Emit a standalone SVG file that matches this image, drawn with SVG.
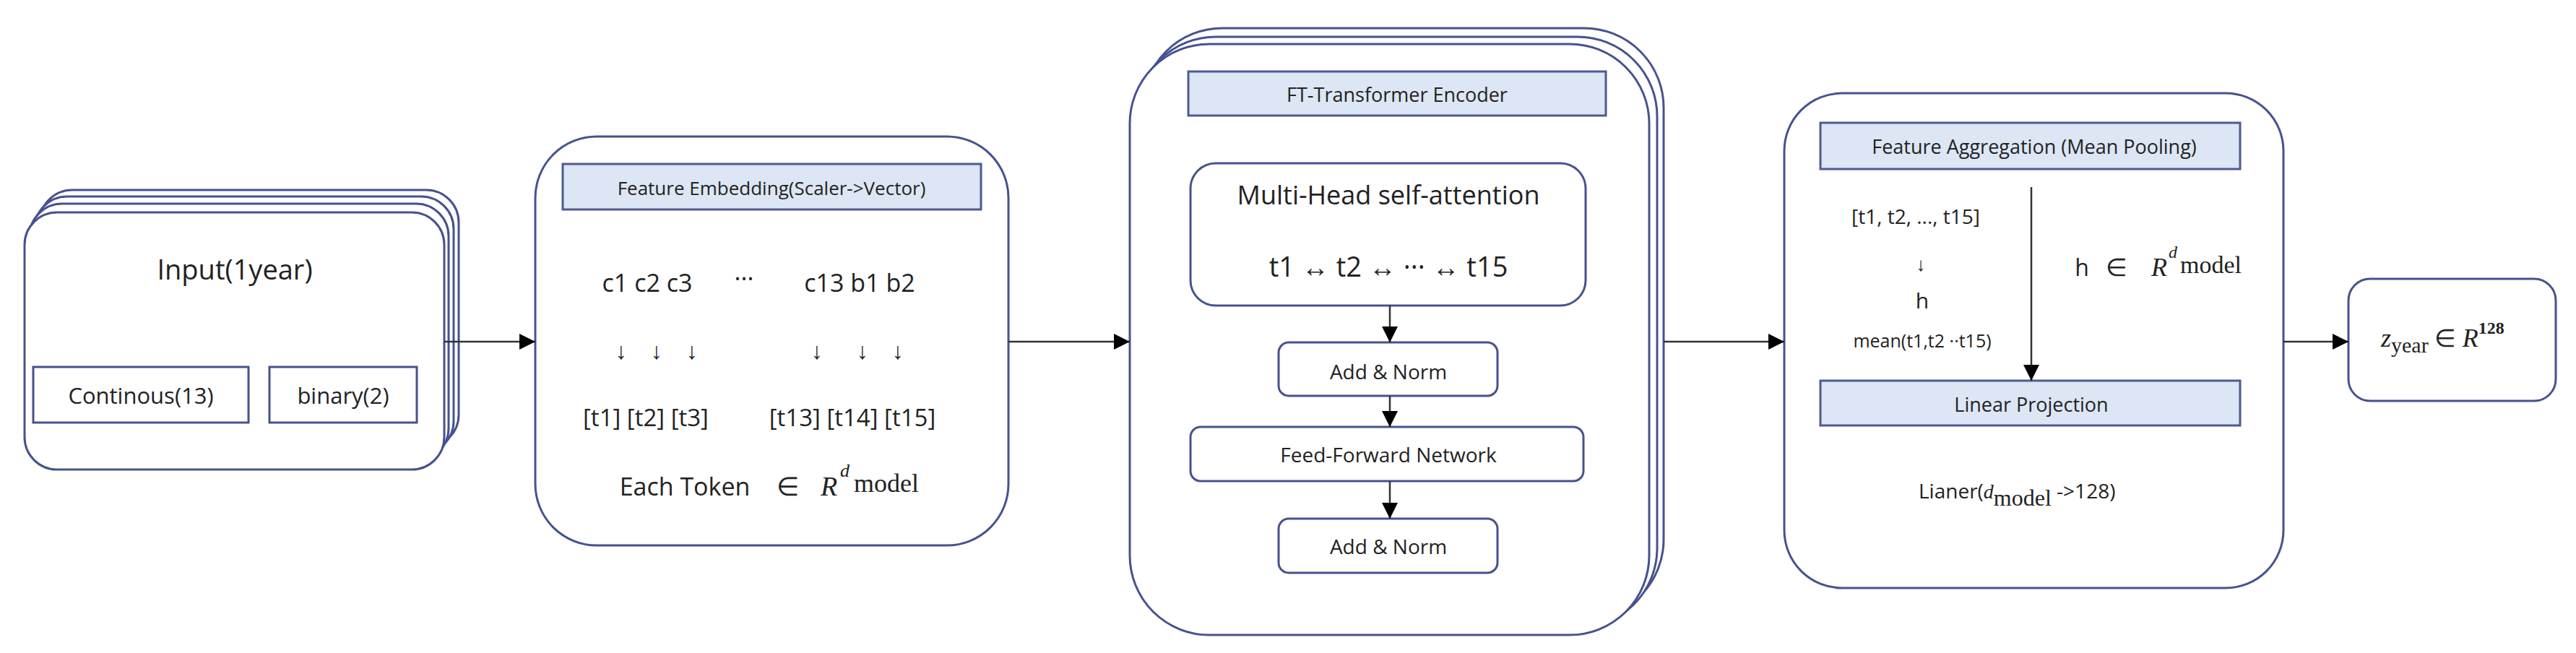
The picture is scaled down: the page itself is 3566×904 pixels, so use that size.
<svg xmlns="http://www.w3.org/2000/svg" width="3566" height="904" viewBox="0 0 3566 904">
<defs>
<marker id="ah" viewBox="0 0 10 10" refX="10" refY="5" markerWidth="22" markerHeight="22" markerUnits="userSpaceOnUse" orient="auto"><path d="M0,0 L10,5 L0,10 z" fill="#000"/></marker>
<style>
.box{fill:#fff;stroke:#46528f;stroke-width:3}
.hdr{fill:#dce6f4;stroke:#4d5a93;stroke-width:3}
.sub{fill:#fff;stroke:#46528f;stroke-width:3}
.t{font-family:"Open Sans","Liberation Sans",sans-serif;fill:#222;text-anchor:middle}
.m{font-family:"Liberation Serif",serif;fill:#222}
.c{stroke:#333;stroke-width:2.5;fill:none}
</style>
</defs>
<rect width="3566" height="904" fill="#fff"/>
<g id="input">
<rect class="box" x="55" y="263" width="580" height="356" rx="45"/>
<rect class="box" x="48" y="272" width="580" height="356" rx="45"/>
<rect class="box" x="41" y="282" width="580" height="356" rx="45"/>
<rect class="box" x="34" y="294" width="581" height="356" rx="45"/>
<text class="t" x="325" y="387" font-size="38">Input(1year)</text>
<rect class="sub" x="46" y="508" width="298" height="77"/>
<text class="t" x="195" y="559" font-size="31">Continous(13)</text>
<rect class="sub" x="373" y="508" width="204" height="77"/>
<text class="t" x="475" y="559" font-size="31">binary(2)</text>
</g>
<g id="embedding">
<rect class="box" x="741" y="189" width="655" height="566" rx="85"/>
<rect class="hdr" x="779" y="227" width="579" height="63"/>
<text class="t" x="1068" y="270" font-size="26">Feature Embedding(Scaler-&gt;Vector)</text>
<text class="t" x="896" y="404" font-size="34">c1 c2 c3</text>
<text class="t" x="1030" y="398" font-size="34">···</text>
<text class="t" x="1190" y="404" font-size="34">c13 b1 b2</text>
<g class="t" font-size="32">
<text x="860" y="497">↓</text><text x="909" y="497">↓</text><text x="958" y="497">↓</text>
<text x="1131" y="497">↓</text><text x="1194" y="497">↓</text><text x="1243" y="497">↓</text>
</g>
<text class="t" x="894" y="590" font-size="33">[t1] [t2] [t3]</text>
<text class="t" x="1180" y="590" font-size="33">[t13] [t14] [t15]</text>
<text class="t" x="948" y="686" font-size="34">Each Token</text>
<text class="m" x="1075" y="686" font-size="36">∈</text>
<text class="m" x="1136" y="686" font-size="38" font-style="italic">R</text>
<text class="m" x="1163" y="660" font-size="26" font-style="italic">d</text>
<text class="m" x="1182" y="681" font-size="36">model</text>
</g>
<g id="encoder">
<rect class="box" x="1582" y="39" width="721" height="818" rx="110"/>
<rect class="box" x="1573" y="51" width="721" height="818" rx="110"/>
<rect class="box" x="1564" y="61" width="719" height="818" rx="110"/>
<rect class="hdr" x="1645" y="99" width="578" height="61"/>
<text class="t" x="1934" y="141" font-size="27">FT-Transformer Encoder</text>
<rect class="sub" x="1648" y="226" width="547" height="197" rx="35"/>
<text class="t" x="1922" y="283" font-size="36">Multi-Head self-attention</text>
<text class="t" x="1922" y="383" font-size="38">t1 ↔ t2 ↔ ··· ↔ t15</text>
<rect class="sub" x="1770" y="474" width="303" height="74" rx="14"/>
<text class="t" x="1922" y="525" font-size="28">Add &amp; Norm</text>
<rect class="sub" x="1648" y="591" width="544" height="75" rx="14"/>
<text class="t" x="1922" y="640" font-size="28">Feed-Forward Network</text>
<rect class="sub" x="1770" y="718" width="303" height="75" rx="14"/>
<text class="t" x="1922" y="767" font-size="28">Add &amp; Norm</text>
</g>
<g id="aggregation">
<rect class="box" x="2470" y="129" width="691" height="685" rx="80"/>
<rect class="hdr" x="2520" y="170" width="581" height="64"/>
<text class="t" x="2816" y="213" font-size="27">Feature Aggregation (Mean Pooling)</text>
<text class="t" x="2652" y="310" font-size="28">[t1, t2, ..., t15]</text>
<text class="t" x="2659" y="375" font-size="26">↓</text>
<text class="t" x="2661" y="427" font-size="30">h</text>
<text class="t" x="2661" y="481" font-size="25">mean(t1,t2 ··t15)</text>
<text class="t" x="2882" y="382" font-size="32">h</text>
<text class="m" x="2915" y="382" font-size="34">∈</text>
<text class="m" x="2978" y="382" font-size="36" font-style="italic">R</text>
<text class="m" x="3002" y="357" font-size="24" font-style="italic">d</text>
<text class="m" x="3018" y="378" font-size="34">model</text>
<rect class="hdr" x="2520" y="527" width="581" height="62"/>
<text class="t" x="2812" y="570" font-size="27">Linear Projection</text>
<text x="2656" y="690" font-size="28" class="t" text-anchor="start" style="text-anchor:start">Lianer(<tspan class="m" font-style="italic" font-size="28">d</tspan><tspan class="m" font-size="32" dy="10">model</tspan><tspan dy="-10"> -&gt;128)</tspan></text>
</g>
<g id="output">
<rect class="box" x="3251" y="386" width="287" height="169" rx="30"/>
<text class="m" x="3296" y="480" font-size="36" font-style="italic">z<tspan font-style="normal" font-size="30" dy="8">year</tspan><tspan font-style="normal" font-size="34" dy="-8"> ∈ </tspan><tspan>R</tspan><tspan font-style="normal" font-weight="bold" font-size="24" dy="-18">128</tspan></text>
</g>
<g id="connectors">
<line class="c" x1="615" y1="473" x2="741" y2="473" marker-end="url(#ah)"/>
<line class="c" x1="1396" y1="473" x2="1564" y2="473" marker-end="url(#ah)"/>
<line class="c" x1="2303" y1="473" x2="2470" y2="473" marker-end="url(#ah)"/>
<line class="c" x1="3161" y1="473" x2="3251" y2="473" marker-end="url(#ah)"/>
<line class="c" x1="1924" y1="423" x2="1924" y2="474" marker-end="url(#ah)"/>
<line class="c" x1="1924" y1="548" x2="1924" y2="591" marker-end="url(#ah)"/>
<line class="c" x1="1924" y1="666" x2="1924" y2="718" marker-end="url(#ah)"/>
<line class="c" x1="2812" y1="259" x2="2812" y2="527" marker-end="url(#ah)"/>
</g>
</svg>
